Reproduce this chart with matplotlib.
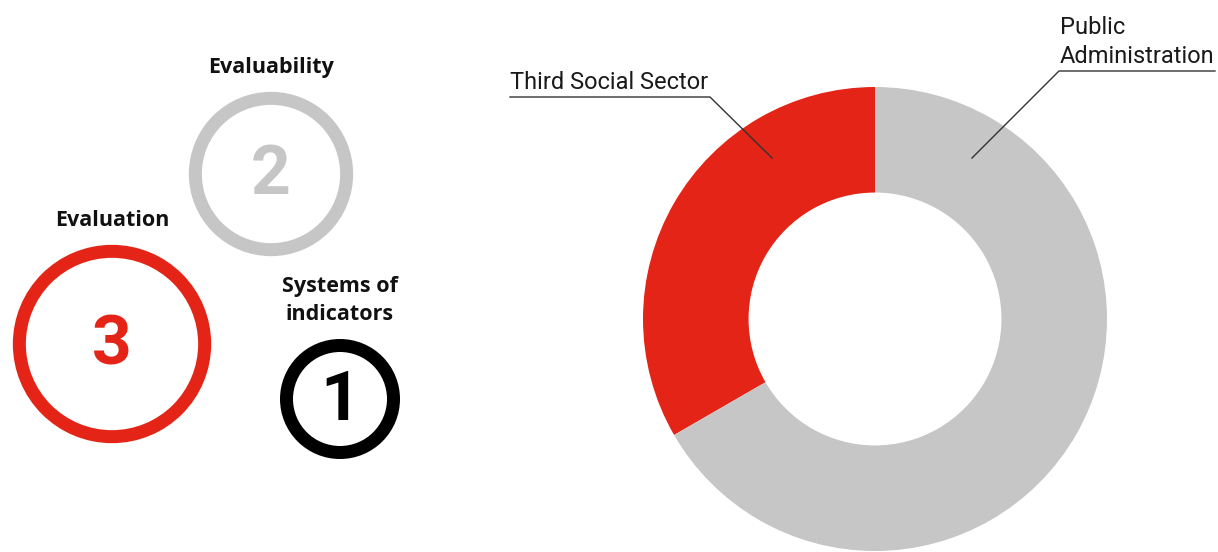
import numpy as np
import matplotlib.pyplot as plt
from matplotlib.patches import Circle

# evaluation types (bubbles)
bubble_labels = ["Evaluation", "Evaluability", "Systems of\nindicators"]
bubble_values = [3, 2, 1]
bubble_colors = ["#E42416", "#C6C6C6", "#000000"]

# who commissioned (donut)
sector_labels = ["Third Social Sector", "Public Administration"]
sector_values = [2, 4]
sector_colors = ["#E42416", "#C6C6C6"]

W, H = 1218, 552
fig = plt.figure(figsize=(W / 100, H / 100), dpi=100)
fig.patch.set_facecolor("white")

# left: bubbles in pixel coordinates
ax = fig.add_axes([0, 0, 1, 1])
ax.set_xlim(0, W)
ax.set_ylim(H, 0)
ax.axis("off")

centers = [(112, 344), (271, 174), (340, 399)]
k = 53.5  # px radius for value 1 (area ~ value)
lw_px = 13
for (cx, cy), lab, v, c in zip(centers, bubble_labels, bubble_values, bubble_colors):
    r = k * np.sqrt(v)
    ax.add_patch(Circle((cx, cy), r, fill=False, ec=c, lw=lw_px * 0.72))
    ax.text(cx, cy + 2, str(v), color=c, fontsize=50, fontweight="bold",
            family="Roboto", ha="center", va="center")
    lines = lab.split("\n")
    top = cy - r - lw_px / 2 - 19
    for i, line in enumerate(reversed(lines)):
        ax.text(cx, top - i * 28, line, fontsize=15.5, fontweight="bold",
                family="Open Sans", color="#111111", ha="center", va="baseline")

# right: donut
cx, cy, R = 875, 319, 232
pax = fig.add_axes([(cx - R) / W, (H - cy - R) / H, 2 * R / W, 2 * R / H])
pax.pie(sector_values, colors=sector_colors, startangle=90, counterclock=True,
        radius=1, wedgeprops=dict(width=0.455, edgecolor="none"))
pax.set_xlim(-1, 1)
pax.set_ylim(-1, 1)
pax.set_aspect("equal")
pax.axis("off")


def px(x, y):
    return (x - cx) / R, (cy - y) / R


# leader lines: underline start, elbow, point inside wedge
leaders = [
    [(510, 97), (710, 97), (772, 158)],
    [(1215, 71), (1059, 71), (972, 158)],
]
for pts in leaders:
    xy = np.array([px(*p) for p in pts])
    pax.plot(xy[:, 0], xy[:, 1], color="#333333", lw=1.0, clip_on=False)

tx, ty = px(510, 89)
pax.text(tx, ty, sector_labels[0], fontsize=17, family="Roboto",
         color="#1a1a1a", ha="left", va="baseline", clip_on=False)
for i, line in enumerate(["Public", "Administration"]):
    tx, ty = px(1060, 34 + i * 29)
    pax.text(tx, ty, line, fontsize=17, family="Roboto",
             color="#1a1a1a", ha="left", va="baseline", clip_on=False)

fig.savefig("out.png", dpi=100, facecolor="white")
